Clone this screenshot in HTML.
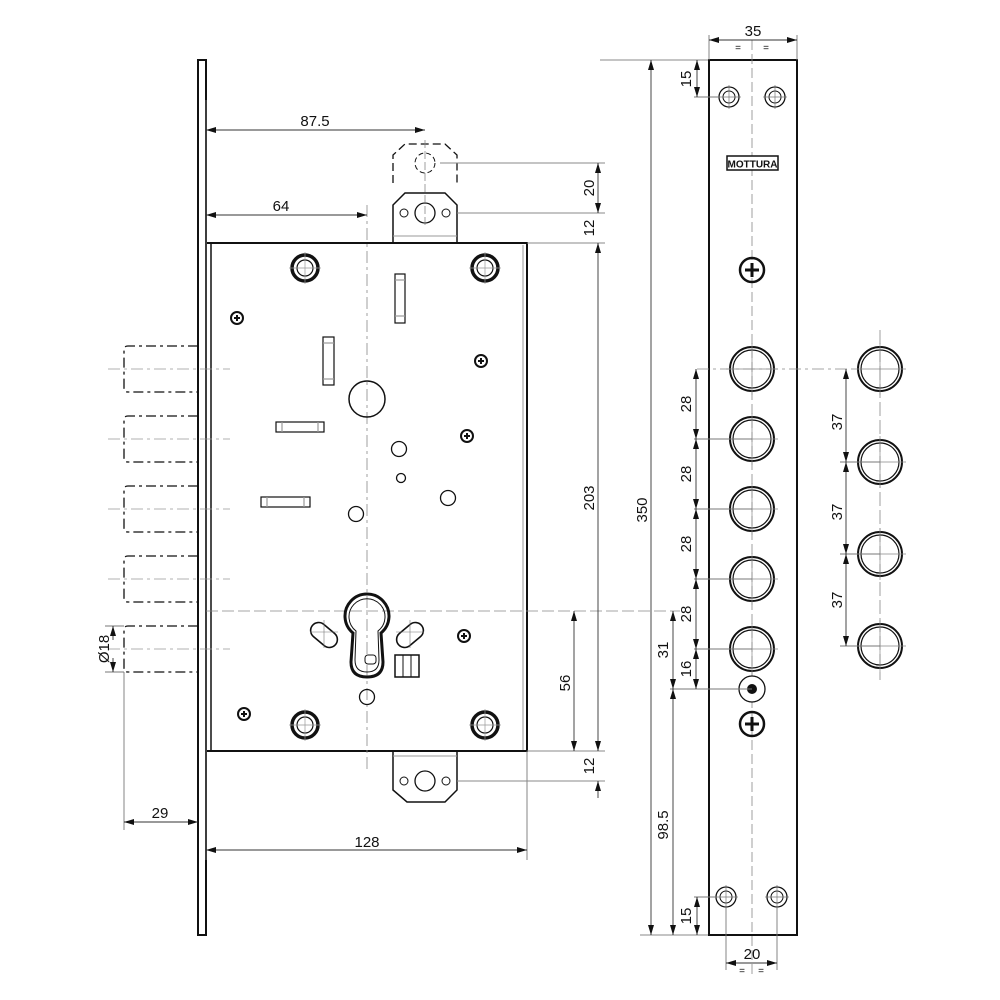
<!DOCTYPE html>
<html><head><meta charset="utf-8"><style>
html,body{margin:0;padding:0;background:#fff}
svg{display:block}
text{font-family:"Liberation Sans",Arial,sans-serif;font-size:15px;fill:#111}
</style></head><body>
<svg width="1000" height="1000" viewBox="0 0 1000 1000" xmlns="http://www.w3.org/2000/svg">
<defs>
<marker id="a" viewBox="0 0 10 6" refX="10" refY="3" markerWidth="10" markerHeight="6" markerUnits="userSpaceOnUse" orient="auto-start-reverse"><path d="M0,0 L10,3 L0,6 Z" fill="#111"/></marker>
<g id="scr"><circle r="6" fill="none" stroke="#111" stroke-width="2"/><path d="M-3,0H3M0,-3V3" stroke="#111" stroke-width="2"/></g>
<g id="bigscr"><circle r="13" fill="none" stroke="#111" stroke-width="3.5"/><circle r="8" fill="none" stroke="#111" stroke-width="1.2"/><path d="M-16,0H16M0,-16V16" stroke="#999" stroke-width="0.7"/></g>
<g id="bolt"><circle r="22" fill="none" stroke="#111" stroke-width="2"/><circle r="19" fill="none" stroke="#111" stroke-width="1.2"/><path d="M-26,0H26M0,-26V26" stroke="#888" stroke-width="0.7"/></g>
<g id="sh"><circle r="10" fill="none" stroke="#111" stroke-width="1.3"/><circle r="6" fill="none" stroke="#111" stroke-width="1"/><path d="M-12,0H12M0,-12V12" stroke="#777" stroke-width="0.7"/></g>
<g id="plus"><circle r="12" fill="none" stroke="#111" stroke-width="2.5"/><path d="M-7,0H7M0,-7V7" stroke="#111" stroke-width="3"/></g>
<g id="dbox"><path d="M198,-23H128Q124,-23 124,-19V19Q124,23 128,23H198" fill="none" stroke="#111" stroke-width="1.3" stroke-dasharray="10,4,3,4"/><path d="M108,0H230" stroke="#999" stroke-width="0.8" stroke-dasharray="12,4,3,4"/></g>
</defs>

<rect x="198" y="60" width="8" height="875" fill="none" stroke="#111" stroke-width="2"/>
<rect x="206" y="243" width="321" height="508" fill="none" stroke="#111" stroke-width="2"/>
<line x1="211" y1="243" x2="211" y2="751" stroke="#111" stroke-width="1.5"/>
<line x1="523" y1="245" x2="523" y2="750" stroke="#999" stroke-width="1"/>

<path d="M393,243V205L405,193H445L457,205V243" fill="none" stroke="#111" stroke-width="1.5"/>
<line x1="393" y1="236" x2="457" y2="236" stroke="#999"/>
<circle cx="425" cy="213" r="10" fill="none" stroke="#111" stroke-width="1.3"/>
<circle cx="404" cy="213" r="4" fill="none" stroke="#111"/>
<circle cx="446" cy="213" r="4" fill="none" stroke="#111"/>
<path d="M393,183V155L405,144H445L457,155V183" fill="none" stroke="#111" stroke-width="1.3" stroke-dasharray="8,4"/>
<circle cx="425" cy="163" r="10" fill="none" stroke="#111" stroke-width="1" stroke-dasharray="5,3"/>
<path d="M393,751V790L407,802H445L457,790V751" fill="none" stroke="#111" stroke-width="1.5"/>
<line x1="393" y1="756" x2="457" y2="756" stroke="#999"/>
<circle cx="425" cy="781" r="10" fill="none" stroke="#111" stroke-width="1.3"/>
<circle cx="404" cy="781" r="4" fill="none" stroke="#111"/>
<circle cx="446" cy="781" r="4" fill="none" stroke="#111"/>

<line x1="367" y1="205" x2="367" y2="770" stroke="#888" stroke-width="0.8" stroke-dasharray="12,4,3,4"/>
<line x1="425" y1="140" x2="425" y2="225" stroke="#888" stroke-width="0.8" stroke-dasharray="8,3"/>
<line x1="206" y1="611" x2="680" y2="611" stroke="#888" stroke-width="0.8" stroke-dasharray="12,4"/>

<use href="#bigscr" x="305" y="268"/><use href="#bigscr" x="485" y="268"/>
<use href="#bigscr" x="305" y="725"/><use href="#bigscr" x="485" y="725"/>
<use href="#scr" x="237" y="318"/><use href="#scr" x="481" y="361"/>
<use href="#scr" x="467" y="436"/><use href="#scr" x="464" y="636"/>
<use href="#scr" x="244" y="714"/>

<circle cx="367" cy="399" r="18" fill="none" stroke="#111" stroke-width="1.5"/>
<circle cx="399" cy="449" r="7.5" fill="none" stroke="#111" stroke-width="1.3"/>
<circle cx="401" cy="478" r="4.5" fill="none" stroke="#111" stroke-width="1.3"/>
<circle cx="448" cy="498" r="7.5" fill="none" stroke="#111" stroke-width="1.3"/>
<circle cx="356" cy="514" r="7.5" fill="none" stroke="#111" stroke-width="1.3"/>
<circle cx="367" cy="697" r="7.5" fill="none" stroke="#111" stroke-width="1.3"/>

<g fill="none" stroke="#111" stroke-width="1.2">
<rect x="395" y="274" width="10" height="49"/><line x1="395" y1="280" x2="405" y2="280" stroke="#999"/><line x1="395" y1="316" x2="405" y2="316" stroke="#999"/>
<rect x="323" y="337" width="11" height="48"/><line x1="323" y1="343" x2="334" y2="343" stroke="#999"/><line x1="323" y1="379" x2="334" y2="379" stroke="#999"/>
<rect x="276" y="422" width="48" height="10"/><line x1="282" y1="422" x2="282" y2="432" stroke="#999"/><line x1="318" y1="422" x2="318" y2="432" stroke="#999"/>
<rect x="261" y="497" width="49" height="10"/><line x1="267" y1="497" x2="267" y2="507" stroke="#999"/><line x1="304" y1="497" x2="304" y2="507" stroke="#999"/>
</g>

<path d="M353,633 A22,22 0 1 1 381,633 L383,662 Q383,677 367,677 Q351,677 351,662 Z" fill="none" stroke="#111" stroke-width="3"/>
<path d="M356,631 A18,18 0 1 1 378,631 L379,660 Q379,672 367,672 Q355,672 355,660 Z" fill="none" stroke="#111" stroke-width="1"/>
<rect x="365" y="655" width="11" height="9" rx="3" fill="#fff" stroke="#111"/>
<rect x="395" y="655" width="24" height="22" fill="none" stroke="#111" stroke-width="1.5"/>
<line x1="403" y1="655" x2="403" y2="677" stroke="#111"/><line x1="411" y1="655" x2="411" y2="677" stroke="#111"/>
<rect x="309" y="627" width="30" height="16" rx="8" transform="rotate(40 324 635)" fill="none" stroke="#111" stroke-width="1.6"/>
<rect x="395" y="627" width="30" height="16" rx="8" transform="rotate(-40 410 635)" fill="none" stroke="#111" stroke-width="1.6"/>
<g stroke="#777" stroke-width="0.6">
<path d="M310,632H338M324,620V648M396,632H424M410,620V648"/>
</g>

<use href="#dbox" x="0" y="369"/><use href="#dbox" x="0" y="439"/>
<use href="#dbox" x="0" y="509"/><use href="#dbox" x="0" y="579"/>
<use href="#dbox" x="0" y="649"/>

<g stroke="#777" stroke-width="0.9" fill="none">
<line x1="124" y1="672" x2="124" y2="830"/>
<line x1="206" y1="100" x2="206" y2="860"/>
<line x1="527" y1="751" x2="527" y2="860"/>
<line x1="105" y1="626" x2="124" y2="626"/><line x1="105" y1="672" x2="124" y2="672"/>
</g>
<g stroke="#333" stroke-width="0.9" fill="none">
<line x1="124" y1="822" x2="198" y2="822" marker-start="url(#a)" marker-end="url(#a)"/>
<line x1="206" y1="850" x2="527" y2="850" marker-start="url(#a)" marker-end="url(#a)"/>
<line x1="206" y1="130" x2="425" y2="130" marker-start="url(#a)" marker-end="url(#a)"/>
<line x1="206" y1="215" x2="367" y2="215" marker-start="url(#a)" marker-end="url(#a)"/>
<line x1="113" y1="640" x2="113" y2="626" marker-end="url(#a)"/>
<line x1="113" y1="658" x2="113" y2="672" marker-end="url(#a)"/>
</g>
<text x="160" y="818" text-anchor="middle">29</text>
<text x="367" y="847" text-anchor="middle">128</text>
<text x="315" y="126" text-anchor="middle">87.5</text>
<text x="281" y="211" text-anchor="middle">64</text>
<text transform="translate(109,649) rotate(-90)" text-anchor="middle">Ø18</text>

<g stroke="#888" stroke-width="0.9" fill="none">
<line x1="440" y1="163" x2="605" y2="163"/>
<line x1="457" y1="213" x2="605" y2="213"/>
<line x1="527" y1="243" x2="605" y2="243"/>
<line x1="527" y1="751" x2="605" y2="751"/>
<line x1="457" y1="781" x2="605" y2="781"/>
<line x1="600" y1="60" x2="710" y2="60"/>
<line x1="640" y1="935" x2="710" y2="935"/>
</g>
<g stroke="#333" stroke-width="0.9" fill="none">
<line x1="598" y1="163" x2="598" y2="213" marker-start="url(#a)" marker-end="url(#a)"/>
<line x1="598" y1="243" x2="598" y2="751" marker-start="url(#a)" marker-end="url(#a)"/>
<line x1="598" y1="781" x2="598" y2="798" marker-start="url(#a)"/>
<line x1="574" y1="611" x2="574" y2="751" marker-start="url(#a)" marker-end="url(#a)"/>
<line x1="651" y1="60" x2="651" y2="935" marker-start="url(#a)" marker-end="url(#a)"/>
</g>
<text transform="translate(594,188) rotate(-90)" text-anchor="middle">20</text>
<text transform="translate(594,228) rotate(-90)" text-anchor="middle">12</text>
<text transform="translate(594,498) rotate(-90)" text-anchor="middle">203</text>
<text transform="translate(594,766) rotate(-90)" text-anchor="middle">12</text>
<text transform="translate(570,683) rotate(-90)" text-anchor="middle">56</text>
<text transform="translate(647,510) rotate(-90)" text-anchor="middle">350</text>

<rect x="709" y="60" width="88" height="875" fill="none" stroke="#111" stroke-width="2"/>
<line x1="752" y1="40" x2="752" y2="975" stroke="#888" stroke-width="0.8" stroke-dasharray="10,4"/>
<use href="#sh" x="729" y="97"/><use href="#sh" x="775" y="97"/>
<use href="#sh" x="726" y="897"/><use href="#sh" x="777" y="897"/>
<rect x="727" y="156" width="51" height="14" fill="#fff" stroke="#111" stroke-width="1.5"/>
<text x="752.5" y="167.5" text-anchor="middle" style="font-size:10px;font-weight:bold">MOTTURA</text>
<use href="#plus" x="752" y="270"/>
<use href="#plus" x="752" y="724"/>
<use href="#bolt" x="752" y="369"/><use href="#bolt" x="752" y="439"/>
<use href="#bolt" x="752" y="509"/><use href="#bolt" x="752" y="579"/>
<use href="#bolt" x="752" y="649"/>
<circle cx="752" cy="689" r="13" fill="#fff" stroke="#111" stroke-width="1.3"/>
<circle cx="752" cy="689" r="5" fill="#111"/>

<line x1="880" y1="330" x2="880" y2="680" stroke="#888" stroke-width="0.8" stroke-dasharray="14,4"/>
<use href="#bolt" x="880" y="369"/><use href="#bolt" x="880" y="462"/>
<use href="#bolt" x="880" y="554"/><use href="#bolt" x="880" y="646"/>
<line x1="697" y1="369" x2="858" y2="369" stroke="#888" stroke-width="0.8" stroke-dasharray="12,4,3,4"/>

<g stroke="#777" stroke-width="0.9" fill="none">
<line x1="709" y1="35" x2="709" y2="60"/><line x1="797" y1="35" x2="797" y2="60"/>
<line x1="694" y1="97" x2="719" y2="97"/>
<line x1="694" y1="897" x2="716" y2="897"/>
<line x1="694" y1="439" x2="752" y2="439"/><line x1="694" y1="509" x2="752" y2="509"/>
<line x1="694" y1="579" x2="752" y2="579"/><line x1="694" y1="649" x2="752" y2="649"/>
<line x1="670" y1="689" x2="752" y2="689"/>
<line x1="726" y1="907" x2="726" y2="970"/><line x1="777" y1="907" x2="777" y2="970"/>
<line x1="840" y1="462" x2="880" y2="462"/><line x1="840" y1="554" x2="880" y2="554"/><line x1="840" y1="646" x2="880" y2="646"/>
</g>
<g stroke="#333" stroke-width="0.9" fill="none">
<line x1="709" y1="40" x2="797" y2="40" marker-start="url(#a)" marker-end="url(#a)"/>
<line x1="697" y1="60" x2="697" y2="97" marker-start="url(#a)" marker-end="url(#a)"/>
<line x1="697" y1="897" x2="697" y2="935" marker-start="url(#a)" marker-end="url(#a)"/>
<line x1="696" y1="369" x2="696" y2="439" marker-start="url(#a)" marker-end="url(#a)"/>
<line x1="696" y1="439" x2="696" y2="509" marker-start="url(#a)" marker-end="url(#a)"/>
<line x1="696" y1="509" x2="696" y2="579" marker-start="url(#a)" marker-end="url(#a)"/>
<line x1="696" y1="579" x2="696" y2="649" marker-start="url(#a)" marker-end="url(#a)"/>
<line x1="696" y1="649" x2="696" y2="689" marker-start="url(#a)" marker-end="url(#a)"/>
<line x1="673" y1="611" x2="673" y2="689" marker-start="url(#a)" marker-end="url(#a)"/>
<line x1="673" y1="689" x2="673" y2="935" marker-start="url(#a)" marker-end="url(#a)"/>
<line x1="726" y1="963" x2="777" y2="963" marker-start="url(#a)" marker-end="url(#a)"/>
<line x1="846" y1="369" x2="846" y2="462" marker-start="url(#a)" marker-end="url(#a)"/>
<line x1="846" y1="462" x2="846" y2="554" marker-start="url(#a)" marker-end="url(#a)"/>
<line x1="846" y1="554" x2="846" y2="646" marker-start="url(#a)" marker-end="url(#a)"/>
</g>
<text x="753" y="36" text-anchor="middle">35</text>
<text x="738" y="51" text-anchor="middle" style="font-size:10px">=</text>
<text x="766" y="51" text-anchor="middle" style="font-size:10px">=</text>
<text x="752" y="959" text-anchor="middle">20</text>
<text x="742" y="974" text-anchor="middle" style="font-size:10px">=</text>
<text x="761" y="974" text-anchor="middle" style="font-size:10px">=</text>
<text transform="translate(691,79) rotate(-90)" text-anchor="middle">15</text>
<text transform="translate(691,916) rotate(-90)" text-anchor="middle">15</text>
<text transform="translate(691,404) rotate(-90)" text-anchor="middle">28</text>
<text transform="translate(691,474) rotate(-90)" text-anchor="middle">28</text>
<text transform="translate(691,544) rotate(-90)" text-anchor="middle">28</text>
<text transform="translate(691,614) rotate(-90)" text-anchor="middle">28</text>
<text transform="translate(691,669) rotate(-90)" text-anchor="middle">16</text>
<text transform="translate(668,650) rotate(-90)" text-anchor="middle">31</text>
<text transform="translate(668,825) rotate(-90)" text-anchor="middle">98.5</text>
<text transform="translate(842,422) rotate(-90)" text-anchor="middle">37</text>
<text transform="translate(842,512) rotate(-90)" text-anchor="middle">37</text>
<text transform="translate(842,600) rotate(-90)" text-anchor="middle">37</text>
</svg>
</body></html>
